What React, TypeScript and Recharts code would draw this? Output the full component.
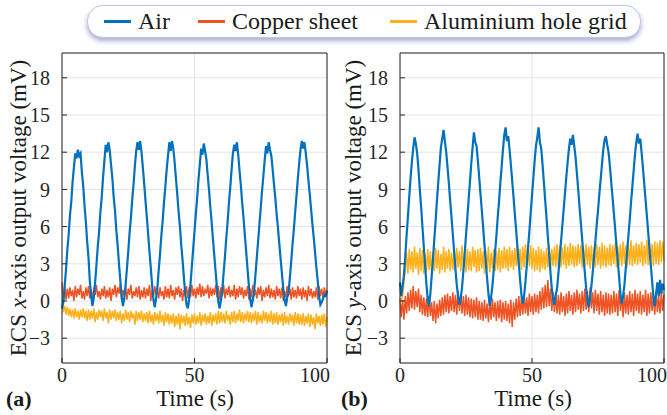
import React from 'react';
import { CartesianGrid, Line, LineChart, XAxis, YAxis } from 'recharts';

// sampling step of the recordings (s)
const STEP = 0.5;

const xTicks = [0, 50, 100];
const yTicks = [-3, 0, 3, 6, 9, 12, 15, 18];

// (a) ECS x-axis
const airX = [
  -0.6, -0.1, 1.2, 2.5, 4.1, 5.3, 6.9, 8.0, 9.6, 10.8, 11.9, 11.5, 12.2, 11.7, 11.9, 10.4, 9.3, 7.7, 6.4, 4.8,
  3.5, 1.6, 0.4, -0.4, 0.3, 1.5, 2.9, 4.4, 5.6, 7.2, 8.4, 10.0, 11.3, 12.6, 12.0, 12.8, 12.2, 11.0, 9.9, 8.4,
  7.3, 5.7, 4.5, 3.0, 1.7, 0.3, -0.4, 0.2, 1.3, 2.6, 4.0, 5.5, 6.7, 8.2, 9.4, 10.9, 12.1, 12.8, 12.2, 12.9,
  12.0, 10.8, 9.5, 8.1, 6.8, 5.4, 4.0, 2.7, 1.3, 0.1, -0.5, 0.2, 1.1, 2.5, 3.8, 5.3, 6.5, 8.0, 9.2, 10.6,
  11.7, 12.8, 12.1, 12.9, 12.3, 11.2, 9.9, 8.6, 7.2, 6.0, 4.5, 3.3, 1.9, 0.6, -0.3, -0.6, 0.2, 1.4, 2.8, 4.2,
  5.6, 7.0, 8.3, 9.8, 11.0, 12.3, 11.8, 12.7, 12.1, 11.4, 10.1, 8.9, 7.5, 6.3, 4.9, 3.6, 2.3, 1.0, -0.1, -0.6,
  0.1, 0.9, 2.3, 3.6, 5.1, 6.4, 7.9, 9.2, 10.6, 11.9, 12.6, 12.1, 12.8, 11.8, 10.5, 9.3, 7.9, 6.7, 5.3, 4.0,
  2.6, 1.3, 0.2, -0.5, 0.1, 0.8, 2.1, 3.5, 4.8, 6.2, 7.5, 8.9, 10.1, 11.4, 12.5, 11.9, 12.8, 12.2, 11.7, 10.6,
  9.4, 8.3, 7.0, 5.9, 4.6, 3.4, 2.2, 1.0, 0.1, -0.4, 0.3, 0.7, 1.9, 3.2, 4.6, 5.8, 7.2, 8.5, 9.9, 11.1,
  12.2, 12.9, 12.3, 12.8, 11.9, 10.9, 9.7, 8.6, 7.4, 6.2, 5.1, 3.9, 2.7, 1.6, 0.4, -0.3, -0.1, 0.2, 0.5, 0.4,
  0.8,
];
const copperX = [
  1.5, -0.1, 1.2, 0.1, 1.0, 0.2, 1.1, 0.4, 0.9, 0.0, 1.2, 0.3, 1.0, 0.5, 1.3, 0.2, 0.8, 0.1, 1.1, 0.4,
  1.2, 0.2, 0.9, 0.0, 1.1, 0.5, 1.3, 0.3, 0.8, 0.1, 1.0, 0.4, 1.2, 0.2, 0.9, 0.3, 1.1, 0.0, 1.0, 0.5,
  1.3, 0.3, 1.1, 0.6, 1.4, 0.2, 0.9, 0.4, 1.2, 0.1, 1.0, 0.5, 1.3, 0.2, 0.8, 0.4, 1.1, 0.3, 1.2, 0.1,
  0.9, 0.3, 1.1, 0.2, 1.0, 0.4, 1.3, 0.0, 0.9, 0.3, 1.2, 0.5, 1.0, 0.2, 1.1, 0.4, 0.8, 0.1, 1.2, 0.3,
  1.0, 0.2, 1.3, 0.4, 0.9, 0.1, 1.1, 0.5, 1.2, 0.3, 1.0, 0.0, 0.9, 0.4, 1.2, 0.2, 1.1, 0.3, 1.3, 0.4,
  1.0, 0.2, 1.1, 0.5, 1.4, 0.3, 1.2, 0.4, 0.9, 0.6, 1.3, 0.2, 1.1, 0.4, 1.0, 0.5, 1.3, 0.3, 1.2, 0.1,
  1.1, 0.4, 1.3, 0.2, 1.0, 0.5, 1.2, 0.3, 0.9, 0.4, 1.3, 0.1, 1.0, 0.3, 1.2, 0.5, 1.1, 0.2, 0.9, 0.4,
  1.2, 0.1, 1.0, 0.3, 1.3, 0.4, 0.9, 0.2, 1.1, 0.5, 1.2, 0.0, 0.9, 0.3, 1.1, 0.4, 1.3, 0.2, 1.0, 0.3,
  0.9, 0.1, 1.2, 0.4, 1.0, 0.2, 1.1, 0.0, 0.8, 0.3, 1.2, 0.4, 1.0, 0.1, 1.1, 0.3, 0.9, 0.2, 1.2, 0.4,
  1.0, 0.1, 1.1, 0.3, 0.9, 0.0, 1.2, 0.4, 1.0, 0.2, 0.8, 0.3, 1.1, 0.1, 1.2, 0.4, 1.0, 0.2, 1.1, 0.5,
  0.9,
];
const aluX = [
  -0.2, -0.9, -0.4, -1.1, -0.5, -1.2, -0.6, -1.3, -0.7, -1.4, -0.6, -1.3, -0.8, -1.5, -0.7, -1.3, -0.6, -1.4, -0.8, -1.6,
  -0.7, -1.5, -0.8, -1.4, -0.6, -1.7, -0.9, -1.5, -0.7, -1.3, -0.8, -1.6, -0.6, -1.4, -0.9, -1.8, -0.7, -1.5, -0.8, -1.4,
  -0.7, -1.6, -0.9, -1.5, -0.8, -1.8, -1.0, -1.6, -0.7, -1.5, -0.9, -1.7, -0.8, -1.4, -1.0, -1.9, -0.8, -1.6, -0.9, -1.5,
  -0.8, -1.7, -1.0, -1.6, -0.9, -1.8, -0.8, -1.7, -1.1, -1.9, -0.9, -1.6, -1.0, -1.8, -0.8, -1.7, -1.1, -2.0, -0.9, -1.7,
  -1.0, -1.9, -1.1, -1.8, -1.0, -2.1, -1.2, -1.9, -1.0, -2.3, -1.1, -1.8, -1.2, -2.0, -1.0, -1.9, -1.3, -2.2, -1.1, -1.8,
  -1.0, -1.9, -1.2, -1.8, -0.9, -2.0, -1.1, -1.7, -1.0, -1.9, -1.2, -1.8, -0.9, -2.0, -1.1, -1.7, -1.0, -1.9, -0.8, -1.8,
  -0.9, -1.7, -1.0, -1.8, -0.8, -1.6, -1.1, -1.9, -0.9, -1.7, -0.8, -1.8, -1.0, -1.6, -0.7, -1.7, -0.9, -1.8, -1.0, -1.6,
  -0.8, -1.7, -0.9, -1.8, -1.0, -1.6, -0.8, -1.9, -0.9, -1.7, -1.1, -1.8, -0.8, -1.6, -0.9, -1.8, -1.0, -1.7, -0.8, -1.9,
  -1.0, -1.8, -0.9, -1.9, -1.1, -1.7, -1.0, -2.0, -0.9, -1.8, -1.2, -1.9, -1.0, -1.7, -1.1, -2.0, -0.9, -1.8, -1.0, -1.9,
  -1.1, -1.9, -1.0, -2.0, -1.2, -1.8, -1.0, -2.1, -1.1, -1.9, -1.3, -2.3, -1.0, -1.8, -1.2, -2.0, -1.1, -1.9, -1.0, -2.1,
  -1.3,
];

// (b) ECS y-axis
const airY = [
  1.5, 0.4, 1.2, 2.1, 3.6, 5.3, 6.8, 8.4, 9.9, 11.2, 12.3, 13.2, 12.7, 11.9, 10.6, 9.0, 7.6, 6.0, 4.4, 2.9,
  1.4, 0.1, -0.4, 0.6, 2.0, 3.4, 5.0, 6.5, 8.1, 9.6, 11.0, 12.4, 13.1, 13.8, 12.9, 12.0, 10.8, 9.5, 8.1, 6.8,
  5.4, 4.0, 2.6, 1.3, 0.4, -0.3, 0.2, 1.1, 2.4, 3.8, 5.3, 6.7, 8.2, 9.6, 11.1, 12.4, 13.6, 12.8, 12.5, 11.3,
  10.0, 8.6, 7.3, 5.9, 4.5, 3.1, 1.8, 0.6, -0.4, 0.3, 1.2, 2.5, 3.9, 5.2, 6.7, 8.0, 9.5, 10.8, 12.2, 13.4,
  14.0, 12.9, 13.3, 12.2, 11.0, 9.7, 8.4, 7.0, 5.7, 4.3, 3.0, 1.7, 0.5, -0.2, 0.4, 1.5, 2.8, 4.3, 5.6, 7.1,
  8.5, 9.9, 11.3, 12.5, 13.2, 14.0, 12.8, 12.3, 11.0, 9.6, 8.1, 6.7, 5.2, 3.8, 2.3, 1.0, 0.2, -0.3, 0.5, 1.0,
  2.2, 3.5, 4.8, 6.1, 7.4, 8.7, 10.0, 11.2, 12.3, 13.1, 12.6, 13.4, 12.5, 11.6, 10.3, 9.0, 7.6, 6.3, 5.0, 3.6,
  2.3, 1.1, 0.1, -0.5, 0.3, 1.2, 2.3, 3.6, 4.8, 6.1, 7.3, 8.6, 9.8, 11.0, 12.2, 13.0, 13.3, 12.6, 12.0, 10.9,
  9.6, 8.4, 7.1, 5.8, 4.5, 3.2, 1.9, 0.6, -0.2, 0.4, 1.3, 2.6, 3.9, 5.2, 6.5, 7.9, 9.2, 10.5, 11.8, 12.8,
  13.5, 12.7, 13.1, 12.0, 10.8, 9.5, 8.2, 6.9, 5.6, 4.2, 2.9, 1.6, 0.3, -0.4, 0.6, 1.5, 0.4, 1.7, 0.6, 1.4,
  0.9,
];
const copperY = [
  0.2, -1.3, 0.1, -1.5, 0.4, -1.0, 0.7, -0.8, 0.9, -0.6, 1.2, -0.7, 0.8, -0.5, 1.0, -0.9, 0.5, -1.1, 0.3, -1.2,
  0.2, -1.3, 0.4, -1.2, -0.1, -1.6, 0.0, -1.8, -0.2, -1.4, 0.1, -1.2, 0.3, -1.1, 0.5, -0.9, 0.6, -1.0, 0.4, -0.8,
  0.7, -0.9, 0.5, -1.1, 0.8, -0.8, 0.6, -1.0, 0.4, -1.2, 0.5, -1.1, 0.3, -1.3, 0.2, -1.4, 0.1, -1.3, 0.3, -1.5,
  0.0, -1.5, -0.1, -1.6, 0.1, -1.4, -0.2, -1.7, 0.0, -1.5, 0.2, -1.3, -0.1, -1.6, 0.0, -1.4, 0.1, -1.7, -0.1, -1.5,
  0.0, -1.6, -0.2, -1.8, 0.1, -2.1, -0.1, -1.5, 0.2, -1.3, 0.4, -1.2, 0.3, -1.1, 0.5, -1.0, 0.3, -1.2, 0.6, -0.9,
  0.4, -1.1, 0.6, -0.9, 0.5, -1.0, 0.8, -0.7, 1.1, -0.6, 1.3, -0.5, 1.7, -0.4, 1.0, -0.8, 0.7, -0.9, 0.6, -1.0,
  0.5, -1.1, 0.7, -0.9, 0.4, -1.2, 0.6, -1.0, 0.8, -0.8, 0.5, -1.1, 0.7, -0.9, 0.9, -0.7, 0.6, -1.0, 0.8, -0.8,
  1.0, -0.7, 0.8, -0.9, 1.1, -0.6, 0.7, -1.0, 0.9, -0.8, 0.6, -1.1, 0.8, -0.9, 0.5, -1.2, 0.7, -1.0, 0.6, -1.1,
  0.5, -1.0, 0.8, -0.9, 0.6, -1.2, 0.9, -0.8, 0.4, -1.3, 0.7, -1.0, 0.5, -1.1, 0.8, -0.9, 0.6, -1.2, 0.9, -0.8,
  0.6, -1.0, 0.8, -1.1, 0.5, -0.9, 0.9, -1.2, 0.6, -1.0, 0.7, -0.8, 0.5, -1.1, 0.8, -0.9, 0.4, -1.0, 0.7, -0.8,
  0.5,
];
const aluY = [
  -0.2, 0.1, 0.4, 1.6, 2.4, 3.9, 2.2, 4.2, 2.5, 4.0, 2.3, 4.4, 2.6, 3.9, 2.1, 4.3, 2.4, 4.1, 2.2, 3.8,
  2.3, 4.2, 2.5, 4.0, 2.1, 3.9, 2.4, 4.3, 2.6, 4.1, 2.2, 3.8, 2.5, 4.4, 2.3, 4.0, 2.6, 4.2, 2.4, 3.9,
  2.5, 4.1, 2.3, 4.3, 2.7, 4.0, 2.4, 4.5, 2.6, 3.9, 2.3, 4.2, 2.5, 4.0, 2.4, 4.4, 2.7, 4.1, 2.3, 4.2,
  2.4, 4.3, 2.6, 4.0, 2.2, 4.1, 2.5, 4.4, 2.3, 3.9, 2.6, 4.2, 2.4, 4.0, 2.5, 4.3, 2.3, 4.1, 2.6, 4.4,
  2.6, 4.2, 2.4, 4.4, 2.7, 4.1, 2.5, 4.3, 2.8, 4.5, 2.6, 4.2, 2.5, 4.4, 2.7, 4.6, 2.6, 4.3, 2.8, 4.5,
  2.6, 4.3, 2.4, 4.1, 2.5, 4.4, 2.3, 4.2, 2.6, 4.0, 2.5, 4.3, 2.7, 4.5, 2.6, 4.2, 2.8, 4.4, 2.7, 4.6,
  2.8, 4.5, 2.7, 4.3, 2.9, 4.6, 2.6, 4.4, 2.8, 4.7, 2.9, 4.5, 2.7, 4.4, 2.8, 4.6, 3.0, 4.5, 2.7, 4.3,
  2.8, 4.6, 2.9, 4.4, 2.6, 4.5, 2.8, 4.3, 2.7, 4.6, 2.9, 4.4, 2.6, 4.7, 2.8, 4.5, 2.7, 4.3, 2.9, 4.6,
  2.8, 4.5, 3.0, 4.7, 2.7, 4.4, 2.9, 4.6, 2.8, 4.8, 3.0, 4.5, 2.7, 4.6, 2.9, 4.9, 2.8, 4.5, 3.0, 4.7,
  2.9, 4.6, 3.1, 4.8, 2.8, 4.5, 3.0, 4.9, 2.9, 4.7, 3.1, 4.6, 2.8, 4.8, 3.0, 4.7, 2.9, 4.9, 3.1, 4.8,
  3.2,
];

const BLUE = '#0072BD';
const ORANGE = '#EF5323';
const YELLOW = '#FCB11B';
const INK = '#262626';
const FONT = '"Times New Roman", "Liberation Serif", Times, serif';

const rowsOf = (air: number[], copper: number[], alu: number[]) =>
  air.map((v, i) => ({ t: i * STEP, air: v, copper: copper[i], alu: alu[i] }));

const fmtY = (v: number) => (v < 0 ? `\u2212${-v}` : `${v}`);

function TimeTick(props: any) {
  const { x, y, payload } = props;
  const last = payload.value === 100;
  return (
    <text x={last ? x + 3 : x} y={y} dy="0.71em" textAnchor={last ? 'end' : 'middle'}
      fontSize={20} fill={INK} fontFamily={FONT}>
      {payload.value}
    </text>
  );
}

function Panel({ rows, left, width, right }: { rows: any[]; left: number; width: number; right: number }) {
  return (
    <div style={{ position: 'absolute', left, top: 0 }}>
      <LineChart width={width} height={415} data={rows}
        margin={{ top: 52, right, bottom: 22, left: 0 }}>
        <CartesianGrid stroke="#e4e4e4" />
        <XAxis dataKey="t" type="number" domain={[0, 100]} ticks={xTicks} interval={0}
          tickSize={-5} tickMargin={10} height={30} stroke={INK} tick={<TimeTick />} />
        <XAxis xAxisId="top" orientation="top" type="number" domain={[0, 100]} ticks={xTicks}
          tickSize={-5} height={1} stroke={INK} tick={false} />
        <YAxis type="number" domain={[-5, 20]} ticks={yTicks} interval={0} tickFormatter={fmtY}
          tickSize={-5} tickMargin={17} width={62} stroke={INK}
          tick={{ fontSize: 20, fill: INK, fontFamily: FONT }} />
        <YAxis yAxisId="right" orientation="right" type="number" domain={[-5, 20]} ticks={yTicks}
          tickSize={-5} width={1} stroke={INK} tick={false} />
        <Line type="linear" dataKey="copper" stroke={ORANGE} strokeWidth={1.5} dot={false} isAnimationActive={false} />
        <Line type="linear" dataKey="alu" stroke={YELLOW} strokeWidth={1.5} dot={false} isAnimationActive={false} />
        <Line type="linear" dataKey="air" stroke={BLUE} strokeWidth={2.2} dot={false} isAnimationActive={false} />
      </LineChart>
    </div>
  );
}

function LegendItem({ x, color, label }: { x: number; color: string; label: string }) {
  return (
    <>
      <div style={{ position: 'absolute', left: x, top: 14, width: 27, height: 3, background: color }} />
      <div style={{ position: 'absolute', left: x + 34, top: 0, lineHeight: '31px', fontSize: 24 }}>{label}</div>
    </>
  );
}

export default function App() {
  return (
    <div style={{ position: 'absolute', left: 0, top: 0, width: 667, height: 415, background: '#fff',
      fontFamily: FONT, color: '#1a1a1a', overflow: 'hidden' }}>
      <Panel rows={rowsOf(airX, copperX, aluX)} left={0} width={340} right={12} />
      <Panel rows={rowsOf(airY, copperY, aluY)} left={338} width={329} right={2} />
      <svg width={667} height={415} style={{ position: 'absolute', left: 0, top: 0, pointerEvents: 'none' }}
        fontFamily={FONT} fill="#1a1a1a">
        <text transform="translate(18,208) rotate(-90)" textAnchor="middle" dominantBaseline="central" fontSize={23}>
          ECS <tspan fontStyle="italic">x</tspan>-axis output voltage (mV)
        </text>
        <text transform="translate(353,208) rotate(-90)" textAnchor="middle" dominantBaseline="central" fontSize={23}>
          ECS <tspan fontStyle="italic">y</tspan>-axis output voltage (mV)
        </text>
        <text x={195} y={406} textAnchor="middle" fontSize={23}>Time (s)</text>
        <text x={533} y={406} textAnchor="middle" fontSize={23}>Time (s)</text>
        <text x={6} y={406} fontSize={22} fontWeight="bold">(a)</text>
        <text x={341} y={406} fontSize={22} fontWeight="bold">(b)</text>
      </svg>
      <div style={{ position: 'absolute', left: 87, top: 5, width: 552, height: 31, borderRadius: 16,
        border: '1px solid #c4c6e4', background: '#fff', boxShadow: '0 3px 5px rgba(100,100,185,0.55)' }}>
        <LegendItem x={16} color={BLUE} label="Air" />
        <LegendItem x={110} color={ORANGE} label="Copper sheet" />
        <LegendItem x={302} color={YELLOW} label="Aluminium hole grid" />
      </div>
    </div>
  );
}
